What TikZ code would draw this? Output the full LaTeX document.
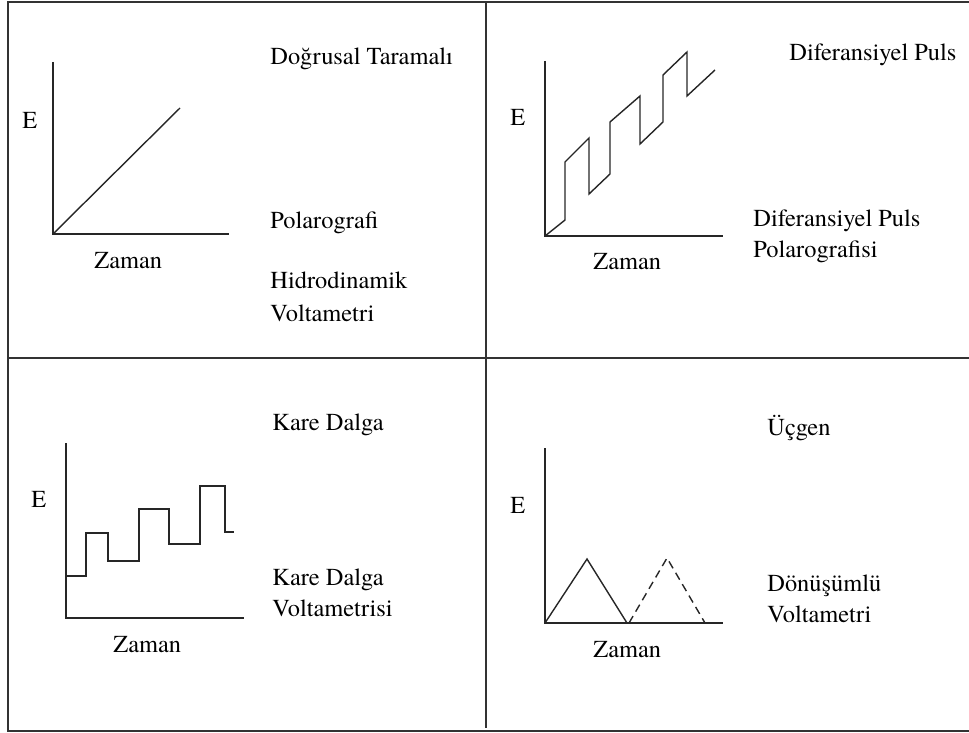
\documentclass[tikz,border=0pt]{standalone}
\usepackage{fontspec}
\setmainfont{TeX Gyre Termes}
\usepackage{xcolor}
\usepackage{tikz}
\usetikzlibrary{positioning}

\begin{document}
\begin{tikzpicture}[
    x=0.5pt, y=-0.5pt,
    frame/.style   ={draw=black!80, line width=0.95pt},
    axis/.style    ={draw=black!85, line width=0.8pt},
    wave/.style    ={draw=black!85, line width=0.7pt, line join=miter},
    wavedash/.style={wave, dash pattern=on 4pt off 2.6pt},
    lbl/.style     ={font=\fontsize{12.2}{14}\selectfont, anchor=base west, inner sep=0pt},
    axlab/.style   ={lbl}
  ]
    \useasboundingbox (0,0) rectangle (969,733);

    % --- outer frame and dividers (right edge is cut off) ---
    \draw[frame] (969,2) -- (8,2) -- (8,731) -- (969,731);
    \draw[frame] (8,358) -- (969,358);
    \draw[frame] (486,2) -- (486,728);

    % --- axes: origin x / origin y / top of E / end of time ---
    \foreach \ox/\oy/\ytop/\xend in {53/234/62/229, 545/236/61/723, 66/618/443/244, 545/623/448/723} {
      \draw[axis] (\ox,\ytop) -- (\ox,\oy) -- (\xend,\oy);
    }

    % axis labels
    \node[axlab] (e1) at (22,128)  {E};
    \node[axlab] (e2) at (510,126) {E};
    \node[axlab] (e3) at (31,507)  {E};
    \node[axlab] (e4) at (510,513) {E};
    \node[axlab] (t1) at (94,268)  {Zaman};
    \node[axlab] (t2) at (593,269) {Zaman};
    \node[axlab] (t3) at (113,652) {Zaman};
    \node[axlab] (t4) at (593,657) {Zaman};

    % --- linear sweep ---
    \draw[wave] (53,234) -- (180,108);
    \node[lbl] (dt)  at (270,65)  {Doğrusal Taramalı};
    \node[lbl] (pol) at (270,228) {Polarografi};
    \node[lbl] (hid) at (270,288) {Hidrodinamik};
    \node[lbl] (hv)  at (270,321) {Voltametri};

    % --- differential pulse ---
    \draw[wave] (545,236) -- (565,220) -- (565,162) -- (589,138) -- (589,194)
      -- (610,174) -- (610,122) -- (640,96) -- (640,144) -- (663,122)
      -- (663,75) -- (687,52) -- (687,96) -- (715,70);
    \node[lbl] (dp)   at (789,61)  {Diferansiyel Puls};
    \node[lbl] (dpp)  at (753,226) {Diferansiyel Puls};
    \node[lbl] (dppo) at (753,257) {Polarografisi};

    % --- square wave ---
    \draw[wave] (66,576) -- (86,576) -- (86,533) -- (108,533) -- (108,561)
      -- (139,561) -- (139,509) -- (169,509) -- (169,544) -- (200,544)
      -- (200,486) -- (225,486) -- (225,532) -- (234,532);
    \node[lbl] (kd)  at (272,430) {Kare Dalga};
    \node[lbl] (kdv) at (272,585) {Kare Dalga};
    \node[lbl] (kdw) at (272,616) {Voltametrisi};

    % --- triangle / cyclic ---
    \draw[wave] (545,623) -- (587,559) -- (627,623);
    \draw[wavedash] (629,623) -- (667,558) -- (705,623);
    \node[lbl] (ucg) at (767,435) {Üçgen};
    \node[lbl] (don) at (767,591) {Dönüşümlü};
    \node[lbl] (dv)  at (767,622) {Voltametri};
\end{tikzpicture}
\end{document}
